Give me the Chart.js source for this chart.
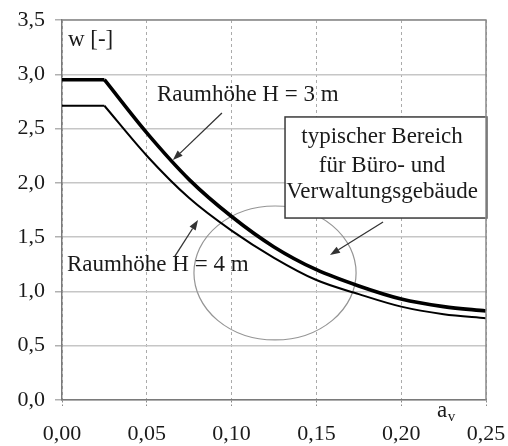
<!DOCTYPE html>
<html><head><meta charset="utf-8">
<script src="https://cdn.jsdelivr.net/npm/chart.js@4/dist/chart.umd.min.js"></script>
<style>html,body{margin:0;padding:0;background:#fff}canvas{display:block}</style>
</head><body>
<canvas id="c" width="508" height="446"></canvas>
<script>
// ---- data ----
const aValues = [0, 0.025, 0.05, 0.075, 0.1, 0.125, 0.15, 0.175, 0.2, 0.225, 0.25];
const wH3 = [2.95, 2.95, 2.46, 2.03, 1.69, 1.41, 1.20, 1.05, 0.93, 0.86, 0.82];
const wH4 = [2.71, 2.71, 2.25, 1.86, 1.56, 1.31, 1.105, 0.975, 0.86, 0.79, 0.752];
const plateauEnd = 1; // index where the constant part ends
const xTickLabels = ['0,00', '0,05', '0,10', '0,15', '0,20', '0,25'];
const yTickLabels = ['0,0', '0,5', '1,0', '1,5', '2,0', '2,5', '3,0', '3,5'];
const seriesNames = ['Raumhöhe H = 3 m', 'Raumhöhe H = 4 m'];
const boxLines = ['typischer Bereich', 'für Büro- und', 'Verwaltungsgebäude'];
const yAxisTitle = 'w [-]';
const xAxisTitle = ['a', 'v'];

// ---- annotation anchors (data units) ----
const labelH3 = {a: 0.056, w: 2.809};
const labelH4 = {a: 0.0029, w: 1.243};
const yTitlePos = {a: 0.0035, w: 3.316};
const xTitlePos = {a: 0.2211, w: -0.101};
const boxArea = {a1: 0.1315, a2: 0.2505, w1: 2.607, w2: 1.676, ac: 0.1887, lines: [2.422, 2.155, 1.915]};
const ellipseArea = {a: 0.1256, w: 1.17, ra: 0.0478, rw: 0.617};
const arrows = [
  {a1: 0.0943, w1: 2.643, a2: 0.0654, w2: 2.21},
  {a1: 0.0666, w1: 1.326, a2: 0.0802, w2: 1.657},
  {a1: 0.1893, w1: 1.639, a2: 0.158, w2: 1.335}
];

const FONT = '"Liberation Serif", "Times New Roman", serif';
Chart.defaults.font.family = FONT;
Chart.defaults.font.size = 22;
Chart.defaults.color = '#1a1a1a';

function drawArrow(ctx, x1, y1, x2, y2) {
  const ang = Math.atan2(y2 - y1, x2 - x1);
  const L = 10, W = 3.6;
  const bx = x2 - L * Math.cos(ang), by = y2 - L * Math.sin(ang);
  ctx.beginPath();
  ctx.moveTo(x1, y1); ctx.lineTo(bx, by);
  ctx.stroke();
  ctx.beginPath();
  ctx.moveTo(x2, y2);
  ctx.lineTo(bx + W * Math.sin(ang), by - W * Math.cos(ang));
  ctx.lineTo(bx - W * Math.sin(ang), by + W * Math.cos(ang));
  ctx.closePath();
  ctx.fill();
}

const annot = {
  id: 'annot',
  beforeDatasetsDraw(chart) {
    const {ctx, scales: {x, y}} = chart;
    ctx.save();
    const cx = x.getPixelForValue(ellipseArea.a), cy = y.getPixelForValue(ellipseArea.w);
    const rx = Math.abs(x.getPixelForValue(ellipseArea.a + ellipseArea.ra) - cx);
    const ry = Math.abs(y.getPixelForValue(ellipseArea.w + ellipseArea.rw) - cy);
    ctx.beginPath();
    ctx.ellipse(cx, cy, rx, ry, 0, 0, 2 * Math.PI);
    ctx.strokeStyle = '#959595';
    ctx.lineWidth = 1.2;
    ctx.stroke();
    // text box (white fill)
    const bx1 = x.getPixelForValue(boxArea.a1), bx2 = x.getPixelForValue(boxArea.a2);
    const by1 = y.getPixelForValue(boxArea.w1), by2 = y.getPixelForValue(boxArea.w2);
    ctx.fillStyle = '#fff';
    ctx.fillRect(bx1, by1, bx2 - bx1, by2 - by1);
    ctx.strokeStyle = '#3a3a3a';
    ctx.lineWidth = 1.5;
    ctx.strokeRect(bx1, by1, bx2 - bx1, by2 - by1);
    ctx.fillStyle = '#1a1a1a';
    ctx.font = '23px ' + FONT;
    ctx.textAlign = 'center';
    ctx.textBaseline = 'middle';
    boxLines.forEach((t, i) => ctx.fillText(t, x.getPixelForValue(boxArea.ac), y.getPixelForValue(boxArea.lines[i])));
    ctx.restore();
  },
  afterDatasetsDraw(chart) {
    const {ctx, scales: {x, y}, chartArea} = chart;
    ctx.save();
    // frame top/right
    ctx.strokeStyle = '#8a8a8a';
    ctx.lineWidth = 1.5;
    ctx.beginPath();
    ctx.moveTo(chartArea.left, chartArea.top);
    ctx.lineTo(chartArea.right, chartArea.top);
    ctx.lineTo(chartArea.right, chartArea.bottom);
    ctx.stroke();
    // labels
    ctx.fillStyle = '#1a1a1a';
    ctx.font = '23px ' + FONT;
    ctx.textAlign = 'left';
    ctx.textBaseline = 'middle';
    ctx.fillText(seriesNames[0], x.getPixelForValue(labelH3.a), y.getPixelForValue(labelH3.w));
    ctx.fillText(seriesNames[1], x.getPixelForValue(labelH4.a), y.getPixelForValue(labelH4.w));
    ctx.fillText(yAxisTitle, x.getPixelForValue(yTitlePos.a), y.getPixelForValue(yTitlePos.w));
    const ax = x.getPixelForValue(xTitlePos.a), ay = y.getPixelForValue(xTitlePos.w);
    ctx.fillText(xAxisTitle[0], ax, ay);
    const aw = ctx.measureText(xAxisTitle[0]).width;
    ctx.font = '15px ' + FONT;
    ctx.fillText(xAxisTitle[1], ax + aw + 0.5, ay + 6);
    // arrows
    ctx.strokeStyle = '#333';
    ctx.fillStyle = '#333';
    ctx.lineWidth = 1.3;
    arrows.forEach(ar => drawArrow(ctx,
      x.getPixelForValue(ar.a1), y.getPixelForValue(ar.w1),
      x.getPixelForValue(ar.a2), y.getPixelForValue(ar.w2)));
    ctx.restore();
  }
};

function pts(ws, from, to) {
  const out = [];
  for (let i = from; i <= to; i++) out.push({x: aValues[i], y: ws[i]});
  return out;
}
const last = aValues.length - 1;
const styleH3 = {borderColor: '#000', borderWidth: 3.6, pointRadius: 0, fill: false};
const styleH4 = {borderColor: '#000', borderWidth: 2, pointRadius: 0, fill: false};

new Chart(document.getElementById('c'), {
  type: 'line',
  data: {
    datasets: [
      Object.assign({label: seriesNames[0], data: pts(wH3, 0, plateauEnd), tension: 0}, styleH3),
      Object.assign({label: seriesNames[0], data: pts(wH3, plateauEnd, last), cubicInterpolationMode: 'monotone'}, styleH3),
      Object.assign({label: seriesNames[1], data: pts(wH4, 0, plateauEnd), tension: 0}, styleH4),
      Object.assign({label: seriesNames[1], data: pts(wH4, plateauEnd, last), cubicInterpolationMode: 'monotone'}, styleH4)
    ]
  },
  options: {
    responsive: false,
    animation: false,
    layout: {padding: {top: 20, right: 22, left: 0, bottom: 0}},
    plugins: {legend: {display: false}, tooltip: {enabled: false}},
    scales: {
      x: {
        type: 'linear', min: 0, max: 0.25,
        afterFit: s => { s.height = 46; s.paddingLeft = 0; s.paddingRight = 0; },
        ticks: {stepSize: 0.05, padding: 15, maxRotation: 0, autoSkip: false,
                callback: (v, i) => xTickLabels[i]},
        grid: {color: '#ababab', lineWidth: 1, tickLength: 6, tickColor: '#8a8a8a', tickBorderDash: [2, 2]},
        border: {display: true, color: '#7a7a7a', width: 1.5, dash: [3, 3]}
      },
      y: {
        min: 0, max: 3.5,
        afterFit: s => { s.width = 62; s.paddingTop = 0; s.paddingBottom = 0; },
        ticks: {stepSize: 0.5, padding: 10, callback: (v, i) => yTickLabels[i]},
        grid: {color: '#c6c6c6', lineWidth: 1.5, tickLength: 7, tickColor: '#b0b0b0'},
        border: {display: true, color: '#7a7a7a', width: 1.5}
      }
    }
  },
  plugins: [annot]
});
</script>
</body></html>
